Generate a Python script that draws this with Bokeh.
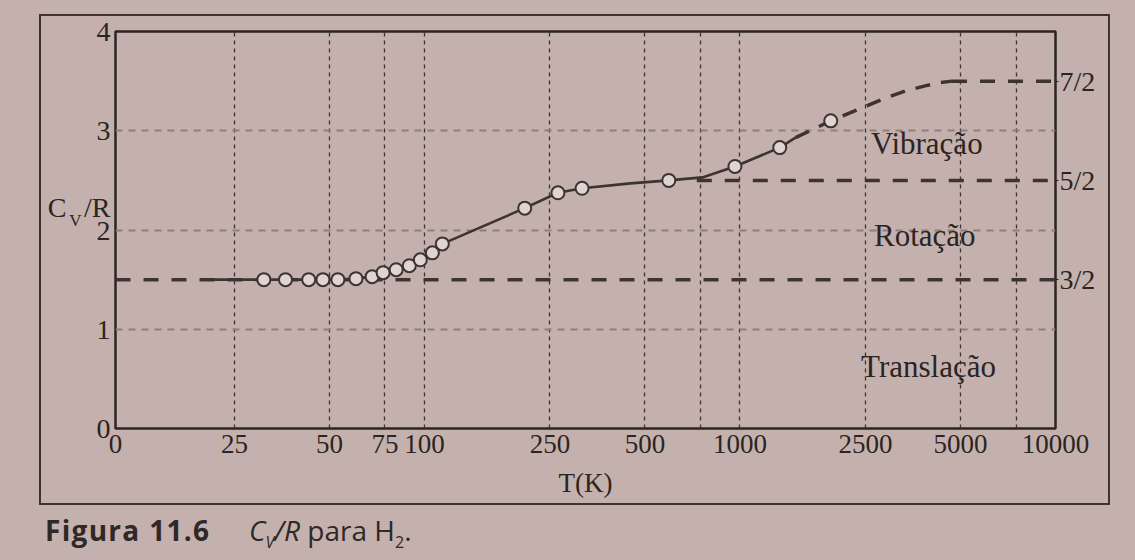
from bokeh.plotting import figure
from bokeh.layouts import column, row
from bokeh.models import FixedTicker, LinearAxis, Range1d, Label, Div, Spacer
from bokeh.embed import file_html
from bokeh.resources import INLINE

# ---------------- data ----------------
T_LEFT = 10.5          # left edge of the axis (labelled "0" in the original)
T_RIGHT = 10000

x_ticks = [10.5, 25, 50, 75, 100, 250, 500, 1000, 2500, 5000, 10000]
x_tick_labels = ["0", "25", "50", "75", "100", "250", "500", "1000", "2500", "5000", "10000"]
x_grid = [25, 50, 75, 100, 250, 500, 750, 1000, 2500, 5000, 7500]

y_ticks = [0, 1, 2, 3, 4]
y_grid = [1, 2, 3]

limit_values = [1.5, 2.5, 3.5]
limit_labels = ["3/2", "5/2", "7/2"]
limit_start_T = [10.5, 730, 4700]

# measured points (circles)
meas_T = [31, 36.3, 43, 47.7, 53.2, 60.7, 68.3, 74, 81.4, 89.6, 97.1, 106, 114,
          208, 265, 316, 595, 964, 1337, 1940]
meas_C = [1.50, 1.50, 1.50, 1.50, 1.50, 1.51, 1.53, 1.57, 1.60, 1.64, 1.70, 1.77, 1.86,
          2.22, 2.375, 2.42, 2.50, 2.64, 2.83, 3.10]

# solid experimental curve
curve_T = [20, 31, 36.3, 43, 47.7, 53.2, 60.7, 68.3, 74, 81.4, 89.6, 97.1, 106, 114,
           208, 265, 316, 450, 595, 760, 964, 1337, 1500]
curve_C = [1.50, 1.50, 1.50, 1.50, 1.50, 1.50, 1.51, 1.53, 1.57, 1.60, 1.64, 1.70, 1.77, 1.86,
           2.22, 2.375, 2.42, 2.47, 2.50, 2.53, 2.64, 2.83, 2.93]

# dashed vibrational extrapolation
vib_T = [1500, 1940, 2480, 2840, 3340, 3890, 4300, 4700]
vib_C = [2.93, 3.10, 3.24, 3.32, 3.40, 3.455, 3.485, 3.50]

regions = ["Vibração", "Rotação", "Translação"]
region_T = [2600, 2660, 2420]
region_C = [2.87, 1.94, 0.62]

# y-axis title  C_V/R : "/R" sits with the tick labels, "V" and "C" on extra axes
ylab_level = 2.23
ylab_sub_level = 2.10

# ---------------- styling ----------------
PAPER = "#c4b1ad"
INK = "#2b2422"
LINE = "#3d3432"
SERIF = "Liberation Serif"
FS = "28px"

p = figure(width=1067, height=487, x_axis_type="log",
           x_range=Range1d(T_LEFT, T_RIGHT), y_range=Range1d(0, 4),
           output_backend="svg", toolbar_location=None,
           min_border_left=74, min_border_right=53,
           min_border_top=15, min_border_bottom=75)
p.styles = {"box-shadow": "0 0 0 2px " + LINE}
p.background_fill_color = PAPER
p.border_fill_color = PAPER
p.outline_line_color = INK
p.outline_line_width = 2.5


def style_axis(ax, size=FS):
    ax.axis_line_color = None
    ax.major_tick_line_color = None
    ax.minor_tick_line_color = None
    ax.major_tick_in = 0
    ax.major_tick_out = 0
    ax.major_label_text_font = SERIF
    ax.major_label_text_font_size = size
    ax.major_label_text_color = INK
    ax.axis_label_text_font = SERIF
    ax.axis_label_text_font_size = size
    ax.axis_label_text_font_style = "normal"
    ax.axis_label_text_color = INK


# bottom axis
xa = p.xaxis[0]
style_axis(xa, "27px")
xa.ticker = FixedTicker(ticks=x_ticks)
xa.major_label_overrides = {t: l for t, l in zip(x_ticks, x_tick_labels)}
xa.axis_label = "T(K)"
xa.major_label_standoff = 6
xa.axis_label_standoff = 12

# left axis (tick labels plus the "/R" of the title)
ya = p.yaxis[0]
style_axis(ya)
ya.ticker = FixedTicker(ticks=y_ticks + [ylab_level])
ya.major_label_overrides = {ylab_level: "/R"}
ya.major_label_standoff = 5

# subscript V and the C, each on an extra left axis
for txt, lvl, size in [("V", ylab_sub_level, "17px"), ("C", ylab_level, FS)]:
    ax = LinearAxis(ticker=FixedTicker(ticks=[lvl]), major_label_overrides={lvl: txt})
    style_axis(ax, size)
    ax.major_label_standoff = 0
    p.add_layout(ax, "left")

# right axis with the limiting values
ra = LinearAxis(ticker=FixedTicker(ticks=limit_values),
                major_label_overrides={v: l for v, l in zip(limit_values, limit_labels)})
style_axis(ra)
ra.major_tick_line_color = INK
ra.major_tick_out = 3
ra.major_label_standoff = 1
p.add_layout(ra, "right")

# grids
p.xgrid.ticker = FixedTicker(ticks=x_grid)
p.xgrid.grid_line_color = "#3e3232"
p.xgrid.grid_line_dash = "4 4"
p.xgrid.grid_line_width = 1.3
p.ygrid.ticker = FixedTicker(ticks=y_grid)
p.ygrid.grid_line_color = "#8e7e7c"
p.ygrid.grid_line_dash = "7 6"
p.ygrid.grid_line_width = 2.2

# limiting value dashed lines
p.segment(x0=limit_start_T, x1=[T_RIGHT] * 3, y0=limit_values, y1=limit_values,
          line_color=LINE, line_width=3.5, line_dash="15 13")

# curves
p.line(vib_T, vib_C, line_color=LINE, line_width=3.5, line_dash="15 11")
p.line(curve_T, curve_C, line_color=LINE, line_width=2.6)
p.scatter(meas_T, meas_C, size=13, marker="circle", fill_color="#e0d4d0",
          line_color=LINE, line_width=2)

# region names
for name, t, c in zip(regions, region_T, region_C):
    p.add_layout(Label(x=t, y=c, text=name, text_font=SERIF, text_font_size="31px",
                       text_color=INK, text_baseline="alphabetic"))

# ---------------- caption ----------------
caption_html = (
    '<div style="position:relative;width:1127px;height:49px;font-family:\'Open Sans\';'
    'color:#2e2826;white-space:nowrap;">'
    '<span style="position:absolute;left:40px;top:3px;font-size:28px;font-weight:bold;'
    'letter-spacing:1.3px;line-height:normal;">Figura 11.6</span>'
    '<span style="position:absolute;left:244px;top:3px;font-size:28px;line-height:normal;">'
    '<i>C<sub style="font-size:16px;">V</sub>/R</i> para H<sub style="font-size:16px;">2</sub>.'
    '</span></div>'
)
cap = Div(text=caption_html, width=1127, height=49)

layout = column(Spacer(width=1127, height=16),
                row(Spacer(width=41, height=487), p),
                cap,
                styles={"background-color": PAPER})

open("out.html", "w").write(file_html(layout, INLINE))
